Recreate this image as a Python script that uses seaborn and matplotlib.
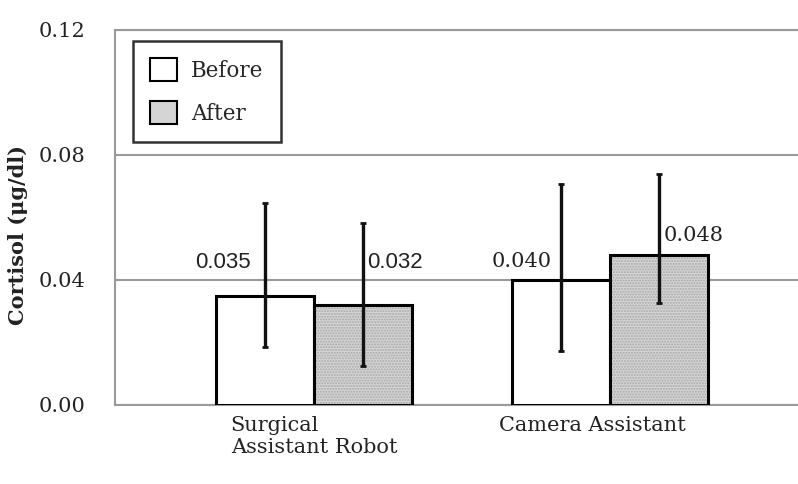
import matplotlib
matplotlib.use("Agg")
import matplotlib.pyplot as plt
import matplotlib.transforms as mtrans
import seaborn as sns
import pandas as pd
from matplotlib.patches import Patch

# Data
groups = ["Surgical\nAssistant Robot", "Camera Assistant"]
conditions = ["Before", "After"]
means = {"Before": [0.035, 0.040], "After": [0.032, 0.048]}
err_low = {"Before": [0.0186, 0.0173], "After": [0.0125, 0.0326]}
err_high = {"Before": [0.0646, 0.0707], "After": [0.0582, 0.0739]}
value_labels = {"Before": ["0.035", "0.040"], "After": ["0.032", "0.048"]}
y_ticks = [0.00, 0.04, 0.08, 0.12]
y_tick_labels = ["0.00", "0.04", "0.08", "0.12"]

rows = []
for c in conditions:
    for g, m in zip(groups, means[c]):
        rows.append({"group": g, "condition": c, "value": m})
df = pd.DataFrame(rows)

sns.set_style("white")
SERIF = ["DejaVu Serif"]
plt.rcParams["font.family"] = SERIF

fig = plt.figure(figsize=(7.98, 4.84), dpi=100)
ax = fig.add_axes([115 / 798, 79 / 484, 694 / 798, 375 / 484])

fill_after = "#d5d5d5"
sns.barplot(data=df, x="group", y="value", hue="condition", order=groups,
            hue_order=conditions, palette=["white", fill_after],
            edgecolor="black", linewidth=2.2, width=0.662,
            errorbar=None, legend=False, ax=ax, zorder=3)

# stippled texture on the "After" bars
bars_by_cond = {c: list(ax.containers[i]) for i, c in enumerate(conditions)}
for bar in bars_by_cond["After"]:
    x0, y0 = bar.get_xy()
    under = plt.Rectangle((x0, y0), bar.get_width(), bar.get_height(),
                          facecolor=fill_after, edgecolor="none", zorder=3)
    ax.add_patch(under)
    tex = plt.Rectangle((x0, y0), bar.get_width(), bar.get_height(),
                        facecolor="none", edgecolor="#a8a8a8", hatch="......",
                        linewidth=0, zorder=3.5)
    ax.add_patch(tex)
    bar.set_facecolor("none")
    bar.set_zorder(4)

# error bars
for c in conditions:
    for i, bar in enumerate(bars_by_cond[c]):
        xc = bar.get_x() + bar.get_width() / 2
        m = means[c][i]
        ax.errorbar(xc, m, yerr=[[m - err_low[c][i]], [err_high[c][i] - m]],
                    fmt="none", ecolor="#111111", elinewidth=2.4,
                    capsize=2, capthick=2, zorder=6)

# value labels (offsets in pixels from the bar top centre)
label_style = {
    ("Before", 0): ((-42, 33), ["Liberation Sans"], 16),
    ("After", 0): ((32, 43), ["Liberation Sans"], 16),
    ("Before", 1): ((-39, 18), SERIF, 15),
    ("After", 1): ((35, 19), SERIF, 15),
}
for c in conditions:
    for i, bar in enumerate(bars_by_cond[c]):
        xc = bar.get_x() + bar.get_width() / 2
        (dx, dy), fam, fs = label_style[(c, i)]
        ax.annotate(value_labels[c][i], xy=(xc, means[c][i]),
                    xytext=(dx * 0.72, dy * 0.72), textcoords="offset points",
                    ha="center", va="center", fontsize=fs, family=fam,
                    color="#222222", zorder=7)

ax.set_ylim(0, 0.12)
ax.set_xlim(-0.672, 1.672)
ax.set_yticks(y_ticks)
ax.set_yticklabels(y_tick_labels, fontsize=15, color="#222222")
ax.tick_params(axis="y", length=0, pad=21.5)
ax.tick_params(axis="x", length=0, pad=8)
ax.set_xticks([0, 1])
ax.set_xticklabels(groups, fontsize=15, color="#222222", multialignment="left",
                   va="top")
# nudge the second category label slightly left
lbl = ax.get_xticklabels()[1]
lbl.set_transform(lbl.get_transform() + mtrans.ScaledTranslation(-18 / 100, 0, fig.dpi_scale_trans))

ax.set_xlabel("")
ax.set_ylabel("Cortisol (μg/dl)", fontsize=15, fontweight="bold", color="#222222")
ax.yaxis.set_label_coords(-(115 - 28) / 694, 0.453)

ax.grid(axis="y", color="#9a9a9a", linewidth=1.5, zorder=0)
ax.set_axisbelow(True)
for side in ["left", "top", "bottom"]:
    ax.spines[side].set_color("#9a9a9a")
    ax.spines[side].set_linewidth(1.5)
ax.spines["right"].set_visible(False)

handles = [Patch(facecolor="white", edgecolor="black", linewidth=1.5, label="Before"),
           Patch(facecolor=fill_after, edgecolor="black", linewidth=1.5, label="After")]
leg = ax.legend(handles=handles, loc="upper left",
                bbox_to_anchor=(18 / 694, (405 - 41) / 375),
                frameon=True, fancybox=False, fontsize=15.5, borderaxespad=0,
                handlelength=1.25, handleheight=1.25, handletextpad=0.65,
                labelspacing=0.9, borderpad=0.8)
leg.get_frame().set_edgecolor("black")
leg.get_frame().set_linewidth(1.8)
leg.set_zorder(10)

fig.savefig("out.png", dpi=100)
